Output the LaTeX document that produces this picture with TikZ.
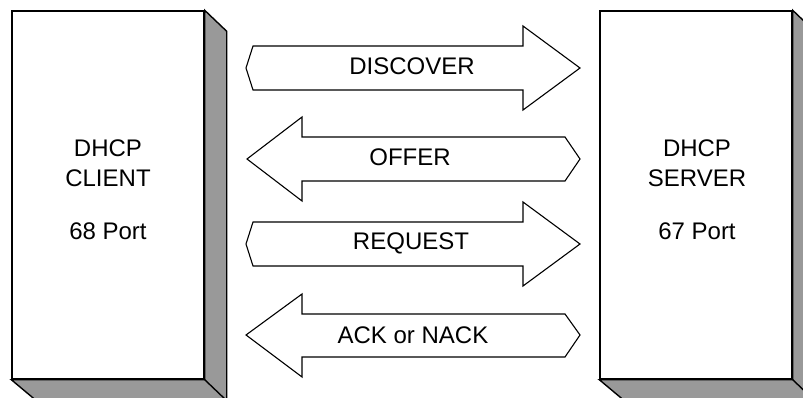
\documentclass[tikz,border=0pt]{standalone}
\usepackage{fontspec}
\setmainfont{Liberation Sans}
\usetikzlibrary{positioning}

\begin{document}
\begin{tikzpicture}[x=1pt, y=-1pt, line width=1.1pt, line join=miter,
    host/.style={rectangle, draw, line width=1.4pt, fill=white, minimum width=192pt, minimum height=368pt, inner sep=0pt},
    hostshade/.style={draw, line width=1.4pt, fill=black!40},
    msg/.style={draw, fill=white},
    lbl/.style={font=\fontsize{24}{30}\selectfont, inner sep=0pt},
    hosttext/.style={font=\fontsize{24}{30}\selectfont, align=center, inner sep=0pt}]

    \useasboundingbox (0,0) rectangle (803,398);
    \clip (0,0) rectangle (803,398);

    % Client and server blocks
    \node [host] (client) at (108,195) {};
    \node [host] (server) at (696,195) {};

    % 3D depth of the blocks
    \foreach \blk in {client, server} {
        \draw [hostshade] (\blk.north east) -- ++(22,21) -- ++(0,368) -- ++(-192,0)
            -- (\blk.south west) -- (\blk.south east) -- cycle;
        \draw [line width=1.4pt] (\blk.south east) -- ++(22,21);
    }

    % Block labels
    \node [hosttext] (clientlbl) at (108,190) {DHCP\\CLIENT\\[23pt]68 Port};
    \node [hosttext] (serverlbl) at (697,190) {DHCP\\SERVER\\[23pt]67 Port};

    % Messages client -> server
    \draw [msg] (246,68) -- (253,46) -- (523,46) -- (523,26) -- (580,68)
        -- (523,110) -- (523,90) -- (253,90) -- cycle;
    \node [lbl] (discover) at (412,66) {DISCOVER};

    \draw [msg] (246,244) -- (253,222) -- (523,222) -- (523,202) -- (580,244)
        -- (523,286) -- (523,266) -- (253,266) -- cycle;
    \node [lbl] (request) at (411,243) {REQUEST};

    % Messages server -> client
    \draw [msg] (247,159) -- (302,117) -- (302,137) -- (565,137) -- (580,159)
        -- (565,181) -- (302,181) -- (302,201) -- cycle;
    \node [lbl] (offer) at (410,157) {OFFER};

    \draw [msg] (246,335) -- (302,294) -- (302,314) -- (565,314) -- (580,335)
        -- (565,357) -- (302,357) -- (302,377) -- cycle;
    \node [lbl] (ack) at (413,335) {ACK or NACK};

\end{tikzpicture}
\end{document}
